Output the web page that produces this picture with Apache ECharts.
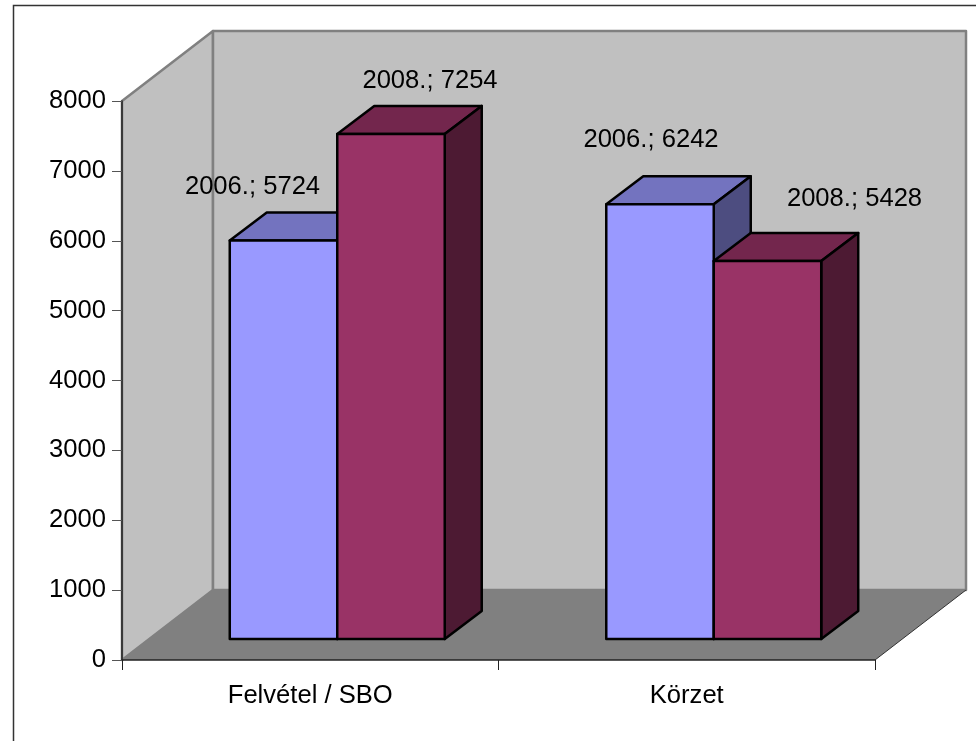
<!DOCTYPE html>
<html>
<head>
<meta charset="utf-8">
<style>html,body{margin:0;padding:0;background:#fff}#c{width:976px;height:741px}</style>
<script src="https://cdn.jsdelivr.net/npm/echarts@6/dist/echarts.min.js"></script>
</head>
<body>
<div id="c"></div>
<script>
const categories = ['Felvétel / SBO', 'Körzet'];
const seriesNames = ['2006.', '2008.'];
const values2006 = [5724, 6242];
const values2008 = [7254, 5428];
const yTicks = { min: 0, max: 8000, interval: 1000 };
const labelShift2006 = [[-31, -52], [-9, -63]];
const labelShift2008 = [[39, -51], [87, -61]];

const FONT = '"Liberation Sans", Arial, sans-serif';
const WALL_DX = 91, WALL_DY = -70;
const BAR_DX = 37, BAR_DY = -28;
const BASE_DX = 27, BASE_DY = -21;
const BAR_RATIO = 0.2855;
const HEIGHT_SCALE = 0.9965;
const palette = [
  { front: '#9999FF', top: '#7373BF', side: '#4D4D80' },
  { front: '#993366', top: '#73264D', side: '#4D1A33' }
];

function poly(points, fill, stroke, width) {
  return { type: 'polygon', shape: { points }, style: { fill, stroke: stroke || null, lineWidth: width || 0, lineJoin: 'round' } };
}

function renderWalls(params) {
  const g = params.coordSys;
  const l = g.x, r = g.x + g.width, t = g.y, b = g.y + g.height;
  const d = (x, y) => [x + WALL_DX, y + WALL_DY];
  return { type: 'group', children: [
    poly([[l, t], d(l, t), d(l, b), [l, b]], '#C0C0C0', '#808080', 2.5),
    poly([d(l, t), d(r, t), d(r, b), d(l, b)], '#C0C0C0', '#808080', 2.5),
    poly([[l, b], [r, b], d(r, b), d(l, b)], '#808080'),
    { type: 'line', shape: { x1: r, y1: b, x2: r + WALL_DX, y2: b + WALL_DY }, style: { stroke: '#333', lineWidth: 1 } }
  ] };
}

function renderBar(params, api) {
  const cat = api.value(0), val = api.value(1), s = api.value(2);
  const band = api.size([1, 0])[0];
  const w = band * BAR_RATIO;
  const p = api.coord([cat, val]), z = api.coord([cat, 0]);
  const xl = p[0] - w + (s * w) + BASE_DX, xr = xl + w;
  const yb = z[1] + BASE_DY;
  const yt = yb - (z[1] - p[1]) * HEIGHT_SCALE;
  const c = palette[s];
  const dx = BAR_DX, dy = BAR_DY;
  return { type: 'group', children: [
    poly([[xl, yt], [xl + dx, yt + dy], [xr + dx, yt + dy], [xr, yt]], c.top, '#000', 2.5),
    poly([[xr, yt], [xr + dx, yt + dy], [xr + dx, yb + dy], [xr, yb]], c.side, '#000', 2.5),
    poly([[xl, yt], [xr, yt], [xr, yb], [xl, yb]], c.front, '#000', 2.5)
  ] };
}

function renderLabel(params, api) {
  const cat = api.value(0), val = api.value(1), s = api.value(2);
  const band = api.size([1, 0])[0];
  const w = band * BAR_RATIO;
  const p = api.coord([cat, val]);
  const shift = (s === 0 ? labelShift2006 : labelShift2008)[cat];
  const cx = p[0] - w + s * w + w / 2 + BASE_DX + shift[0];
  return { type: 'text', style: {
    x: cx, y: p[1] + BASE_DY + shift[1],
    text: seriesNames[s] + '; ' + val,
    fill: '#000', font: '25.6px ' + FONT, textAlign: 'center', textVerticalAlign: 'middle'
  } };
}

const barData = [];
[values2006, values2008].forEach((arr, s) => arr.forEach((v, i) => barData.push([i, v, s])));

const chart = echarts.init(document.getElementById('c'), null, { renderer: 'canvas' });
chart.setOption({
  animation: false,
  backgroundColor: '#fff',
  grid: { left: 122, right: 101, top: 101, bottom: 81, containLabel: false },
  xAxis: {
    type: 'category', data: categories, z: 10,
    axisLine: { lineStyle: { color: '#222', width: 1.5 } },
    axisTick: { show: true, length: 10, alignWithLabel: false, lineStyle: { color: '#222', width: 1 } },
    axisLabel: { color: '#000', fontFamily: FONT, fontSize: 25.6, margin: 23 }
  },
  yAxis: {
    type: 'value', min: yTicks.min, max: yTicks.max, interval: yTicks.interval, z: 10,
    axisLine: { show: true, lineStyle: { color: '#222', width: 1.5 } },
    axisTick: { show: true, length: 10, lineStyle: { color: '#555', width: 1 } },
    axisLabel: { color: '#000', fontFamily: FONT, fontSize: 25.6, margin: 16, formatter: v => String(v) },
    splitLine: { show: false }
  },
  series: [
    { type: 'custom', coordinateSystem: 'cartesian2d', z: 1, clip: false, silent: true, data: [[0, 0]], renderItem: renderWalls, encode: { x: 0, y: 1 } },
    { type: 'custom', coordinateSystem: 'cartesian2d', z: 2, clip: false, data: barData, renderItem: renderBar, encode: { x: 0, y: 1 } },
    { type: 'custom', coordinateSystem: 'cartesian2d', z: 20, clip: false, silent: true, data: barData, renderItem: renderLabel, encode: { x: 0, y: 1 } }
  ],
  graphic: [
    { type: 'polyline', z: 30, silent: true, shape: { points: [[13.5, 741], [13.5, 5.5], [976, 5.5]] }, style: { stroke: '#333', lineWidth: 1.5, fill: null } }
  ]
});
</script>
</body>
</html>
